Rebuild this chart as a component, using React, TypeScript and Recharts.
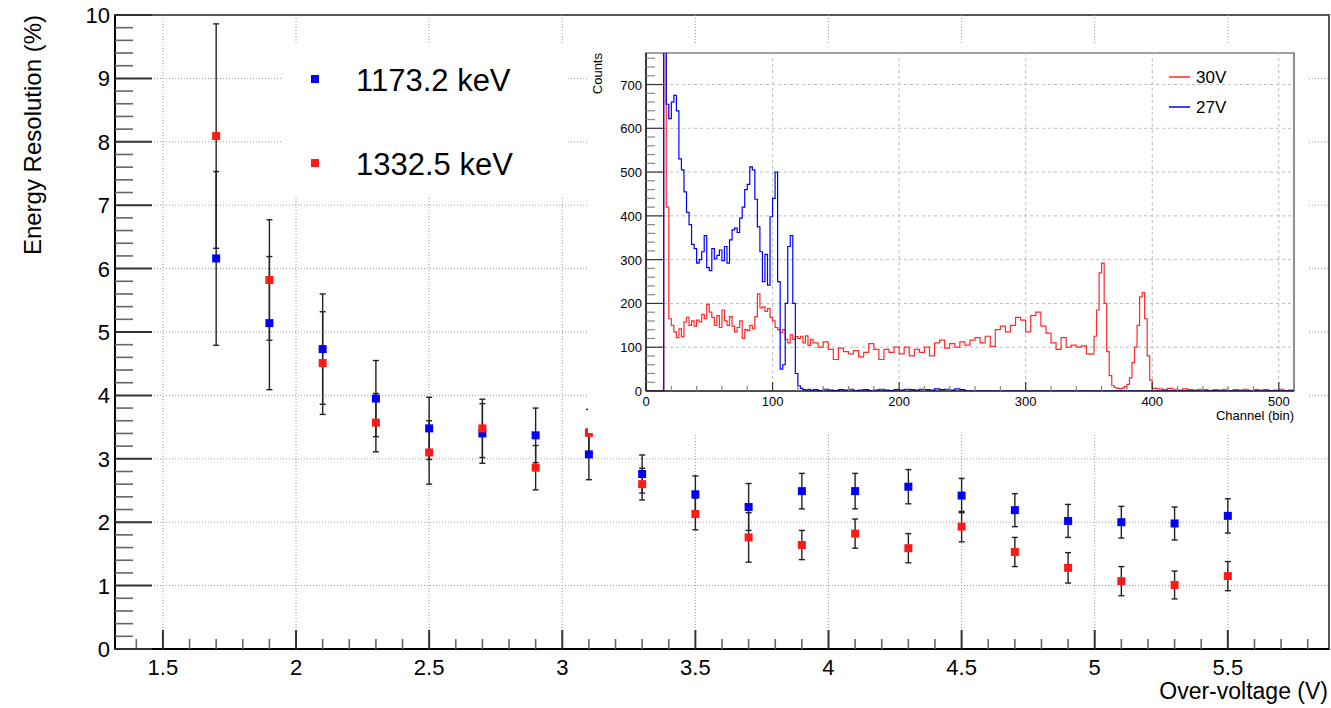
import React from "react";
import {
  ScatterChart,
  Scatter,
  XAxis,
  YAxis,
  ErrorBar,
  ReferenceLine,
  ReferenceArea,
  LineChart,
  Line,
} from "recharts";

const FONT = "'Liberation Sans', Arial, Helvetica, sans-serif";

// ---- main plot: energy resolution vs over-voltage ----
const overVoltage = [1.7, 1.9, 2.1, 2.3, 2.5, 2.7, 2.9, 3.1, 3.3, 3.5, 3.7, 3.9, 4.1, 4.3, 4.5, 4.7, 4.9, 5.1, 5.3, 5.5];
const res1173 = [6.16, 5.14, 4.73, 3.95, 3.48, 3.4, 3.37, 3.07, 2.76, 2.44, 2.24, 2.49, 2.49, 2.56, 2.42, 2.19, 2.02, 2.0, 1.98, 2.1];
const err1173 = [1.37, 1.05, 0.87, 0.6, 0.49, 0.47, 0.43, 0.4, 0.3, 0.29, 0.37, 0.28, 0.28, 0.27, 0.27, 0.26, 0.26, 0.25, 0.26, 0.27];
const res1332 = [8.09, 5.82, 4.51, 3.57, 3.1, 3.48, 2.86, 3.41, 2.6, 2.13, 1.76, 1.64, 1.82, 1.59, 1.93, 1.53, 1.28, 1.07, 1.01, 1.15];
const err1332 = [1.77, 0.95, 0.81, 0.46, 0.5, 0.46, 0.35, 0.37, 0.25, 0.25, 0.39, 0.23, 0.23, 0.23, 0.24, 0.23, 0.24, 0.23, 0.22, 0.23];

const mainXMajor = [1.5, 2, 2.5, 3, 3.5, 4, 4.5, 5, 5.5];
const mainYMajor = [1, 2, 3, 4, 5, 6, 7, 8, 9];

const range = (a: number, b: number, s: number) => {
  const out: number[] = [];
  for (let v = a; v <= b + 1e-9; v += s) out.push(Math.round(v * 100) / 100);
  return out;
};
const mainXTicks = range(1.4, 5.8, 0.1);
const mainYTicks = range(0, 10, 0.2);

// ---- inset: spectra, 512 channels ----
const channels = [...range(0, 130, 2), ...range(132, 348, 4), ...range(350, 400, 2), ...range(404, 508, 4), 512];
const counts30V = [
  0, 0, 0, 0, 0, 0, 0, 1300, 420, 165, 150, 135, 122, 142, 124, 158, 168, 150, 160, 148,
  162, 158, 175, 165, 198, 180, 168, 150, 172, 145, 185, 160, 150, 170, 148, 135, 145, 160, 120, 140,
  138, 150, 142, 170, 222, 190, 192, 182, 188, 168, 160, 145, 140, 133, 140, 118, 110, 128, 118, 124,
  120, 125, 110, 126, 104, 118,
  110, 100, 112, 95, 72, 98, 90, 85, 92, 78, 88, 108, 95, 72, 95, 88, 100, 85, 100, 80,
  95, 88, 100, 80, 110, 116, 98, 108, 100, 112, 105, 116, 122, 110, 125, 102, 140, 148, 135, 150,
  168, 162, 135, 172, 180, 148, 132, 110, 95, 122, 100, 105, 100, 103, 85,
  84, 85, 125, 185, 270, 292, 200, 90, 35, 12, 8, 6, 5, 7, 10, 15, 30, 65, 100, 150, 215, 225, 165, 80, 25, 6,
  5, 3, 6, 4, 2, 5, 3, 2, 4, 3, 1, 3, 2, 4, 1, 3, 2, 4, 1, 3, 2, 3, 1, 2, 4, 1, 2,
  2,
];
const counts27V = [
  0, 0, 0, 0, 0, 0, 0, 1400, 655, 622, 660, 675, 640, 530, 505, 455, 408, 380, 335, 325,
  292, 300, 318, 355, 282, 275, 325, 302, 310, 322, 298, 330, 292, 345, 368, 372, 362, 395, 420, 460,
  472, 512, 505, 438, 375, 318, 250, 312, 242, 398, 440, 500, 250, 50, 60, 200, 330, 355, 200, 40,
  12, 6, 3, 2, 4, 1,
  3, 1, 4, 2, 1, 3, 2, 4, 1, 2, 3, 1, 2, 4, 2, 1, 3, 2, 4, 3, 2, 4, 3, 2, 5, 3, 4, 2, 5, 3,
  0, 0, 0, 0, 0, 0, 0, 0, 0, 0, 0, 0, 0, 0, 0, 0, 0, 0, 0, 0, 0, 0, 0, 0, 0,
  0, 0, 0, 0, 0, 0, 0, 0, 0, 0, 0, 0, 0, 0, 0, 0, 0, 0, 0, 0, 0, 0, 0, 0, 0, 0,
  0, 0, 0, 0, 0, 0, 0, 0, 0, 0, 0, 0, 0, 0, 0, 0, 0, 0, 0, 0, 0, 0, 0, 0, 0, 0, 0,
  0,
];
const insetXMajor = [100, 200, 300, 400, 500];
const insetYMajor = [100, 200, 300, 400, 500, 600, 700];
const insetXTicks = range(0, 500, 20);
const insetYTicks = range(0, 760, 20);

const BLUE = "#0000f2";
const RED = "#ff1a1a";

const series1173 = overVoltage.map((v, i) => ({ v, r: res1173[i], e: err1173[i] }));
const series1332 = overVoltage.map((v, i) => ({ v, r: res1332[i], e: err1332[i] }));
const spectrum = channels.map((ch, i) => ({ ch, c30: counts30V[i], c27: counts27V[i] }));

const isMult = (v: number, m: number) => Math.abs(v / m - Math.round(v / m)) < 1e-6;

function MainYTick({ x, y, payload }: any) {
  const v = payload.value;
  const major = isMult(v, 1);
  return (
    <g>
      <line x1={x} x2={x + (major ? 37 : 18)} y1={y} y2={y} stroke={major ? "#333" : "#666"} strokeWidth={major ? 2 : 1.6} />
      {major && (
        <text x={x - 5} y={y} dy={8} textAnchor="end" fontSize={22} fontFamily={FONT} fill="#000">
          {Math.round(v)}
        </text>
      )}
    </g>
  );
}

function MainXTick({ x, y, payload }: any) {
  const v = payload.value;
  const major = isMult(v, 0.5);
  return (
    <g>
      <line x1={x} x2={x} y1={y} y2={y - (major ? 19 : 10)} stroke={major ? "#333" : "#666"} strokeWidth={major ? 2 : 1.6} />
      {major && (
        <text x={x} y={y + 26} textAnchor="middle" fontSize={22} fontFamily={FONT} fill="#000">
          {String(v)}
        </text>
      )}
    </g>
  );
}

function InsetYTick({ x, y, payload }: any) {
  const v = payload.value;
  const major = isMult(v, 100);
  return (
    <g>
      <line x1={x} x2={x + (major ? 18 : 9)} y1={y} y2={y} stroke={major ? "#333" : "#888"} strokeWidth={1.2} />
      {major && (
        <text x={x - 4} y={y} dy={5} textAnchor="end" fontSize={13} fontFamily={FONT} fill="#000">
          {v}
        </text>
      )}
    </g>
  );
}

function InsetXTick({ x, y, payload }: any) {
  const v = payload.value;
  const major = isMult(v, 100);
  return (
    <g>
      <line x1={x} x2={x} y1={y} y2={y - (major ? 9 : 5)} stroke={major ? "#333" : "#888"} strokeWidth={1.2} />
      {major && (
        <text x={x} y={y + 15} textAnchor="middle" fontSize={13} fontFamily={FONT} fill="#000">
          {v}
        </text>
      )}
    </g>
  );
}

const square = (color: string) => (props: any) =>
  <rect x={props.cx - 4} y={props.cy - 4} width={8} height={8} fill={color} />;

export default function App() {
  return (
    <div style={{ position: "absolute", left: 0, top: 0, width: 1331, height: 708, background: "#fff", fontFamily: FONT }}>
      <ScatterChart width={1331} height={708} margin={{ top: 15, right: 2, bottom: 0, left: 0 }}>
        {mainXMajor.map((v) => (
          <ReferenceLine key={`gx${v}`} x={v} stroke="#999" strokeDasharray="1 2" strokeWidth={1} />
        ))}
        {mainYMajor.map((v) => (
          <ReferenceLine key={`gy${v}`} y={v} stroke="#999" strokeDasharray="1 2" strokeWidth={1} />
        ))}
        <ReferenceArea x1={1.32} x2={5.88} y1={0} y2={10} fill="none" stroke="#555" strokeWidth={2} />
        <XAxis
          type="number"
          dataKey="v"
          domain={[1.32, 5.88]}
          allowDataOverflow
          ticks={mainXTicks}
          interval={0}
          tick={(p: any) => <MainXTick {...p} />}
          tickLine={false}
          tickSize={0}
          tickMargin={0}
          height={59}
          axisLine={{ stroke: "#000", strokeWidth: 2 }}
        />
        <YAxis
          type="number"
          dataKey="r"
          domain={[0, 10]}
          allowDataOverflow
          ticks={mainYTicks}
          interval={0}
          tick={(p: any) => <MainYTick {...p} />}
          tickLine={false}
          tickSize={0}
          tickMargin={0}
          width={115}
          axisLine={{ stroke: "#000", strokeWidth: 2 }}
        />
        <Scatter data={series1173} shape={square(BLUE)} isAnimationActive={false}>
          <ErrorBar dataKey="e" direction="y" width={3} stroke="#222" strokeWidth={1.4} isAnimationActive={false} />
        </Scatter>
        <Scatter data={series1332} shape={square(RED)} isAnimationActive={false}>
          <ErrorBar dataKey="e" direction="y" width={3} stroke="#222" strokeWidth={1.4} isAnimationActive={false} />
        </Scatter>
      </ScatterChart>

      {/* legend of the main plot */}
      <div style={{ position: "absolute", left: 283, top: 43, width: 284, height: 154, background: "#fff" }}>
        <svg width={284} height={154}>
          <rect x={28} y={32} width={8} height={8} fill={BLUE} />
          <text x={73} y={48} fontSize={31} fontFamily={FONT} fill="#000">1173.2 keV</text>
          <rect x={28} y={116} width={8} height={8} fill={RED} />
          <text x={73} y={132} fontSize={31} fontFamily={FONT} fill="#000">1332.5 keV</text>
        </svg>
      </div>

      {/* inset spectrum */}
      <div style={{ position: "absolute", left: 588, top: 45, width: 719, height: 388, background: "#fff" }}>
        <LineChart width={719} height={388} data={spectrum} margin={{ top: 8, right: 13, left: 0, bottom: 0 }}>
          {insetXMajor.map((v) => (
            <ReferenceLine key={`ix${v}`} x={v} stroke="#bbb" strokeDasharray="3 3" strokeWidth={1} />
          ))}
          {insetYMajor.map((v) => (
            <ReferenceLine key={`iy${v}`} y={v} stroke="#bbb" strokeDasharray="3 3" strokeWidth={1} />
          ))}
          <XAxis
            type="number"
            dataKey="ch"
            domain={[0, 512]}
            allowDataOverflow
            ticks={insetXTicks}
            interval={0}
            tick={(p: any) => <InsetXTick {...p} />}
            tickLine={false}
            tickSize={0}
            tickMargin={0}
            height={42}
            axisLine={{ stroke: "#000", strokeWidth: 1.2 }}
          />
          <YAxis
            type="number"
            domain={[0, 772]}
            allowDataOverflow
            ticks={insetYTicks}
            interval={0}
            tick={(p: any) => <InsetYTick {...p} />}
            tickLine={false}
            tickSize={0}
            tickMargin={0}
            width={58}
            axisLine={{ stroke: "#000", strokeWidth: 1.2 }}
          />
          <Line type="stepAfter" dataKey="c30" stroke="#ff2a2a" strokeWidth={1.2} dot={false} isAnimationActive={false} />
          <Line type="stepAfter" dataKey="c27" stroke="#0000ff" strokeWidth={1.2} dot={false} isAnimationActive={false} />
          <ReferenceArea x1={0} x2={512} y1={0} y2={772} fill="none" stroke="#444" strokeWidth={1.2} />
        </LineChart>
        <svg width={719} height={388} style={{ position: "absolute", left: 0, top: 0, pointerEvents: "none" }}>
          <text transform="translate(14,8) rotate(-90)" textAnchor="end" fontSize={13} fontFamily={FONT} fill="#000">Counts</text>
          <text x={706} y={375} textAnchor="end" fontSize={13} fontFamily={FONT} fill="#000">Channel (bin)</text>
          <line x1={581} x2={602} y1={32} y2={32} stroke="#ff2a2a" strokeWidth={1.5} />
          <text x={608} y={38} fontSize={17} fontFamily={FONT} fill="#000">30V</text>
          <line x1={581} x2={602} y1={62} y2={62} stroke="#0000ff" strokeWidth={1.5} />
          <text x={608} y={68} fontSize={17} fontFamily={FONT} fill="#000">27V</text>
        </svg>
      </div>

      {/* axis titles */}
      <svg width={1331} height={708} style={{ position: "absolute", left: 0, top: 0, pointerEvents: "none" }}>
        <text transform="translate(41,15) rotate(-90)" textAnchor="end" fontSize={24} fontFamily={FONT} fill="#000">
          Energy Resolution (%)
        </text>
        <text x={1328} y={699} textAnchor="end" fontSize={23} fontFamily={FONT} fill="#000">
          Over-voltage (V)
        </text>
      </svg>
    </div>
  );
}
